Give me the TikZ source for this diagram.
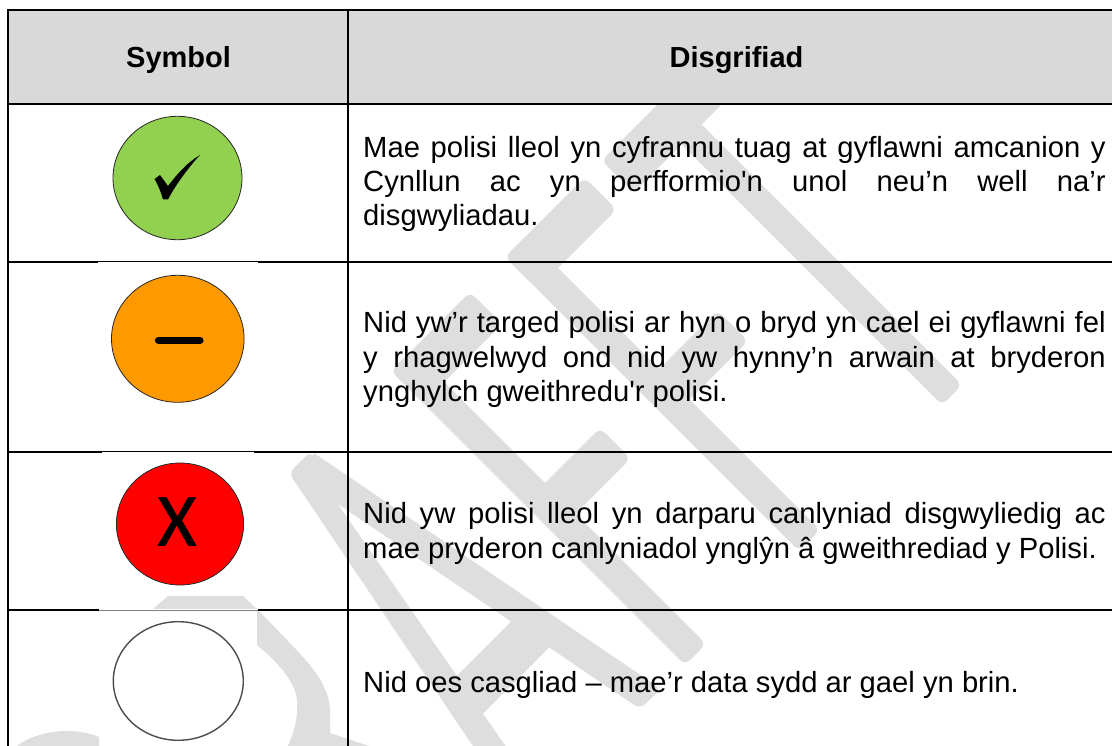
\documentclass[tikz,border=0pt]{standalone}
\usepackage{fontspec}
\usetikzlibrary{shapes.geometric}
\newfontfamily\bodyf{Liberation Sans}
\newfontfamily\xf[FakeBold=0.8]{Carlito}
\definecolor{wm}{HTML}{DEDEDE}
\definecolor{head}{HTML}{D9D9D9}
\definecolor{okgreen}{HTML}{92D050}
\definecolor{amber}{HTML}{FF9900}
\newcommand{\jl}[1]{\makebox[742.5pt][s]{#1}}
\tikzset{
  rule/.style={line width=2pt,black},
  thinrule/.style={line width=1pt},
  headtext/.style={anchor=base,inner sep=0pt,font=\bodyf\bfseries\fontsize{29}{34}\selectfont},
  bodyline/.style={anchor=base west,inner sep=0pt,font=\bodyf\fontsize{29.2}{34}\selectfont},
  sym/.style={ellipse,draw=black!85,line width=0.8pt,inner sep=0pt},
  patch/.style={fill=white,draw=none},
  wmround/.style={fill=wm,rounded corners=7pt}
}
\begin{document}
\begin{tikzpicture}[x=1pt,y=-1pt]
\useasboundingbox (0,0) rectangle (1112,746);
\fill[white] (0,0) rectangle (1112,746);
\begin{scope}
\clip (0,0) rectangle (1112,746);
% D (visible part)
\fill[wm] (17,746) .. controls (28,737) and (48,731) .. (67,731) .. controls (78,731) and (90,733) .. (99,737) -- (99,746) -- cycle;
% R (visible parts)
\fill[wm] (153,609) -- (168,596) -- (243,596) -- (258,610) -- (153,610) -- cycle;
\fill[wm] (257,610) -- (258,610) -- (287,640) .. controls (310,664) and (330,685) .. (330,712) -- (330,733) -- (375,748) -- (287,748) .. controls (296,728) and (298,715) .. (297,700) .. controls (295,680) and (275,660) .. (257,645) -- cycle;
% A
\path[wmround] (311,451) -- (661,689) -- (640,709) -- (320,491.8) -- cycle;
\path[wmround] (289,473) -- (311,451) -- (325,485.6) -- (520,767) -- (487,767) -- cycle;
\fill[wm] (450,682.7) -- (518,614.7) -- (556,640.7) -- (478,718.7) -- cycle;
% F 1
\path[wmround] (391,371) -- (412,350) -- (706,644) -- (685,665) -- cycle;
\path[wmround] (391,371) -- (470,292) -- (502,324) -- (423,403) -- cycle;
\path[wmround] (529,499) -- (600,428) -- (630.5,458.5) -- (559.5,529.5) -- cycle;
% F 2
\path[wmround] (505,257) -- (526,236) -- (820,530) -- (799,551) -- cycle;
\path[wmround] (505,257) -- (584.5,177.5) -- (616.5,209.5) -- (537,289) -- cycle;
\path[wmround] (644,384) -- (717.5,310.5) -- (748,341) -- (674.5,414.5) -- cycle;
% T
\path[wmround] (601.5,160.5) -- (720,42) -- (782,44) -- (633.5,192.5) -- cycle;
\path[wmround] (663.5,126.5) -- (683.5,106.5) -- (962,385) -- (942,405) -- cycle;
% header band
\fill[head] (9,10) rectangle (1112,104);
\end{scope}
% table rules
\draw[rule] (1112,10) -- (8,10) -- (8,746);
\draw[rule] (347.7,10) -- (347.7,746);
\draw[rule] (8,104) -- (1112,104);
\draw[rule] (8,261.7) -- (1112,261.7);
\draw[rule] (8,452) -- (1112,452);
\draw[rule] (8,610) -- (1112,610);
% picture patches thinning the rules
\fill[patch] (98,260.5) rectangle (258,263);
\draw[thinrule,black] (98,261.5) -- (258,261.5);
\fill[patch] (102,450.8) rectangle (254,453.2);
\draw[thinrule,black] (102,451.7) -- (254,451.7);
\fill[patch] (99,608.8) rectangle (258,611.2);
\draw[thinrule,black!50] (99,610) -- (258,610);
% symbols
\node[sym,fill=okgreen,minimum width=129pt,minimum height=123.4pt] (symok) at (177.5,178) {};
\fill[black] (154.6,179) -- (160,175) -- (168,186) .. controls (178,173) and (188,162) .. (200,155) .. controls (189,167) and (176,184) .. (168,199.5) -- (163,199.5) .. controls (161,192) and (158,185) .. (154.6,179) -- cycle;
\node[sym,fill=amber,minimum width=132.6pt,minimum height=127pt] (symamber) at (177.8,338.8) {};
\draw[line width=7.2pt,line cap=round,black] (158.5,340.3) -- (200,340.3);
\node[sym,fill=red,minimum width=127.2pt,minimum height=122pt] (symred) at (180,524) {};
\node[anchor=base,inner sep=0pt,font=\xf\fontsize{75}{75}\selectfont] (symx) at (177,545.5) {X};
\node[sym,fill=white,draw=black!70,line width=1.4pt,minimum width=130pt,minimum height=118.6pt] (symnone) at (178.3,681) {};
% header text
\node[headtext] (hsym) at (178.6,67.7) {Symbol};
\node[headtext] (hdis) at (736.5,67.7) {Disgrifiad};
% row 1
\node[bodyline] (r1a) at (363,157.5) {\jl{Mae polisi lleol yn cyfrannu tuag at gyflawni amcanion y}};
\node[bodyline] (r1b) at (363,191.7) {\jl{Cynllun ac yn perfformio'n unol neu’n well na’r}};
\node[bodyline] (r1c) at (363,225.9) {disgwyliadau.};
% row 2
\node[bodyline] (r2a) at (363,333) {\jl{Nid yw’r targed polisi ar hyn o bryd yn cael ei gyflawni fel}};
\node[bodyline] (r2b) at (363,367) {\jl{y rhagwelwyd ond nid yw hynny’n arwain at bryderon}};
\node[bodyline] (r2c) at (363,401) {ynghylch gweithredu'r polisi.};
% row 3
\node[bodyline] (r3a) at (363,523.7) {\jl{Nid yw polisi lleol yn darparu canlyniad disgwyliedig ac}};
\node[bodyline] (r3b) at (363,558) {mae pryderon canlyniadol ynglŷn â gweithrediad y Polisi.};
% row 4
\node[bodyline] (r4a) at (363,692) {Nid oes casgliad – mae’r data sydd ar gael yn brin.};
\end{tikzpicture}
\end{document}
